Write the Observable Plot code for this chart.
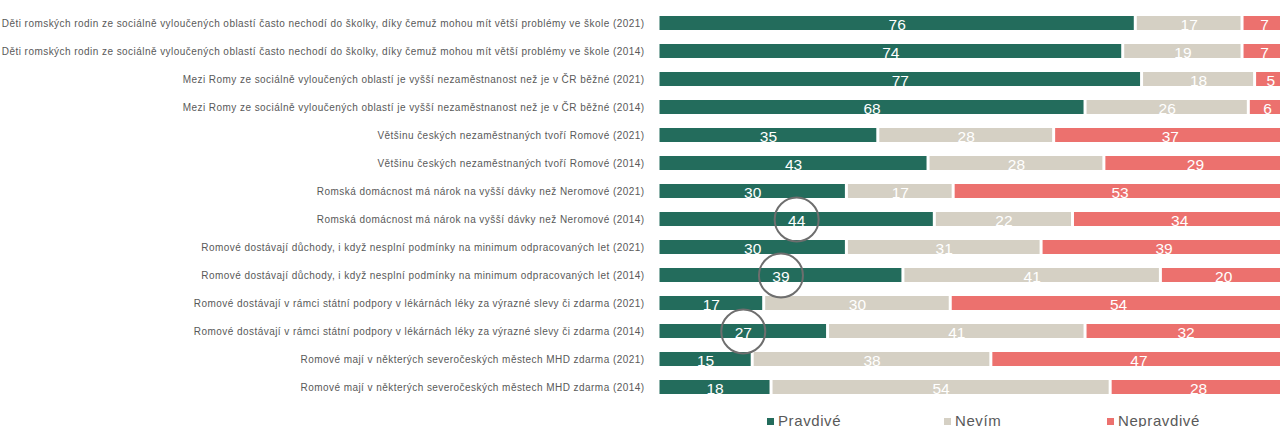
<!DOCTYPE html>
<html>
<head>
<meta charset="utf-8">
<script src="https://cdn.jsdelivr.net/npm/d3@7"></script>
<script src="https://cdn.jsdelivr.net/npm/@observablehq/plot@0.6"></script>
<style>
  html, body { margin: 0; background: #fff; overflow: hidden; }
  #chart { position: relative; width: 1280px; height: 410px; overflow: hidden; }
  #chart svg g[aria-label="y-axis tick label"] text { letter-spacing: 0.45px; }
  #legend { position: relative; width: 1280px; height: 17px; font-family: "Liberation Sans", Arial, sans-serif; font-size: 15px; letter-spacing: 0.6px; color: #595959; }
  .item { position: absolute; top: 2px; line-height: 17px; white-space: nowrap; }
  .sw { display: inline-block; width: 7px; height: 7px; margin-right: 4px; vertical-align: 1px; }
</style>
</head>
<body>
<div id="chart"></div>
<div id="legend"></div>
<script>
const statements = [
  "Děti romských rodin ze sociálně vyloučených oblastí často nechodí do školky, díky čemuž mohou mít větší problémy ve škole (2021)",
  "Děti romských rodin ze sociálně vyloučených oblastí často nechodí do školky, díky čemuž mohou mít větší problémy ve škole (2014)",
  "Mezi Romy ze sociálně vyloučených oblastí je vyšší nezaměstnanost než je v ČR běžné (2021)",
  "Mezi Romy ze sociálně vyloučených oblastí je vyšší nezaměstnanost než je v ČR běžné (2014)",
  "Většinu českých nezaměstnaných tvoří Romové (2021)",
  "Většinu českých nezaměstnaných tvoří Romové (2014)",
  "Romská domácnost má nárok na vyšší dávky než Neromové (2021)",
  "Romská domácnost má nárok na vyšší dávky než Neromové (2014)",
  "Romové dostávají důchody, i když nesplní podmínky na minimum odpracovaných let (2021)",
  "Romové dostávají důchody, i když nesplní podmínky na minimum odpracovaných let (2014)",
  "Romové dostávají v rámci státní podpory v lékárnách léky za výrazné slevy či zdarma (2021)",
  "Romové dostávají v rámci státní podpory v lékárnách léky za výrazné slevy či zdarma (2014)",
  "Romové mají v některých severočeských městech MHD zdarma (2021)",
  "Romové mají v některých severočeských městech MHD zdarma (2014)"
];
const pravdive   = [76, 74, 77, 68, 35, 43, 30, 44, 30, 39, 17, 27, 15, 18];
const nevim      = [17, 19, 18, 26, 28, 28, 17, 22, 31, 41, 30, 41, 38, 54];
const nepravdive = [ 7,  7,  5,  6, 37, 29, 53, 34, 39, 20, 54, 32, 47, 28];
const categories = ["Pravdivé", "Nevím", "Nepravdivé"];
const colors = ["#236C5C", "#D5D0C4", "#EC716E"];
// rows whose "Pravdivé" value is circled
const circled = [7, 9, 11];

const series = [pravdive, nevim, nepravdive];
const data = [];
statements.forEach((s, i) => {
  categories.forEach((c, j) => {
    data.push({statement: s, category: c, value: series[j][i], circled: circled.includes(i) && j === 0});
  });
});

const stackOpts = {x: "value", y: "statement", z: "category", order: categories, offset: "normalize"};

const chart = Plot.plot({
  width: 1280,
  height: 410,
  marginLeft: 658,
  marginRight: -6,
  marginTop: 0,
  marginBottom: 0,
  style: {fontFamily: "'Liberation Sans', Arial, sans-serif", color: "#595959", background: "white"},
  x: {domain: [0, 1], axis: null},
  y: {domain: statements, padding: 0.49, label: null, tickSize: 0, tickPadding: 14, fontSize: 10.5},
  color: {domain: categories, range: colors},
  marks: [
    Plot.barX(data, Plot.stackX({...stackOpts, fill: "category", insetLeft: 1.5, insetRight: 1.5})),
    Plot.text(data, Plot.stackX({...stackOpts, text: d => String(d.value), fill: "white", fontSize: 15.5, dy: 2,
      fontFamily: "'Liberation Sans Narrow', 'Liberation Sans', Arial, sans-serif"})),
    Plot.dot(data, Plot.stackX({...stackOpts, r: 22, fill: "none", stroke: "#6e6e6e", strokeWidth: 2,
      strokeOpacity: d => d.circled ? 1 : 0}))
  ]
});
document.getElementById("chart").appendChild(chart);

const legendLeft = [767, 944, 1107];
const legend = document.getElementById("legend");
categories.forEach((c, i) => {
  const item = document.createElement("div");
  item.className = "item";
  item.style.left = legendLeft[i] + "px";
  item.innerHTML = `<span class="sw" style="background:${colors[i]}"></span>${c}`;
  legend.appendChild(item);
});
</script>
</body>
</html>
